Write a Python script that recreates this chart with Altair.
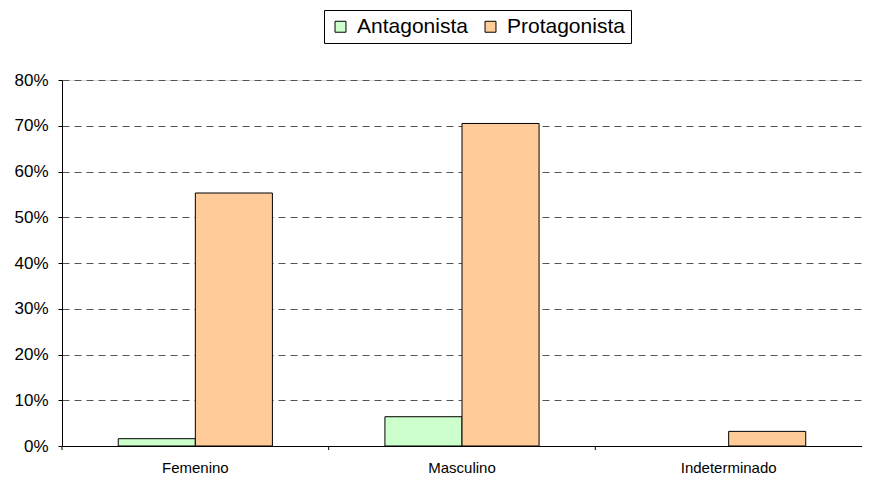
import altair as alt
import pandas as pd

categories = ["Femenino", "Masculino", "Indeterminado"]
series = ["Antagonista", "Protagonista"]
antagonista = [0.016, 0.064, 0.0]
protagonista = [0.553, 0.705, 0.032]
colors = ["#CCFFCC", "#FFCC99"]

rows = []
for c, a, p in zip(categories, antagonista, protagonista):
    rows.append({"cat": c, "serie": "Antagonista", "val": a})
    rows.append({"cat": c, "serie": "Protagonista", "val": p})
df = pd.DataFrame(rows)
ticks_df = pd.DataFrame({"cat": categories})

FONT = "Liberation Sans"

xscale = alt.Scale(domain=categories, paddingInner=0, paddingOuter=0)

bars = alt.Chart(df).transform_filter("datum.val > 0").mark_bar(stroke="black", strokeWidth=1).encode(
    x=alt.X("cat:N", sort=categories, scale=xscale,
            axis=alt.Axis(title=None, labelAngle=0, ticks=False, grid=False,
                          domainColor="black", labelFontSize=15, labelColor="black",
                          labelFont=FONT, labelPadding=14)),
    xOffset=alt.XOffset("serie:N", sort=series,
                        scale=alt.Scale(domain=series, paddingInner=0, paddingOuter=0.73)),
    y=alt.Y("val:Q", scale=alt.Scale(domain=[0, 0.8]),
            axis=alt.Axis(title=None, format=".0%", values=[0, 0.1, 0.2, 0.3, 0.4, 0.5, 0.6, 0.7, 0.8],
                          grid=True, gridDash=[7, 5], gridColor="#555555", gridWidth=1,
                          domainColor="black", tickColor="black", tickSize=4,
                          labelFontSize=17, labelColor="black", labelFont=FONT,
                          labelPadding=10)),
    color=alt.Color("serie:N", sort=series,
                    scale=alt.Scale(domain=series, range=colors),
                    legend=alt.Legend(title=None, orient="none", legendX=262, legendY=-70,
                                      direction="horizontal", symbolType="square",
                                      symbolSize=120, symbolStrokeColor="black",
                                      symbolStrokeWidth=1, labelFontSize=21,
                                      labelFont=FONT, labelColor="black",
                                      labelOffset=6, columnPadding=12,
                                      strokeColor="black", fillColor="white",
                                      padding=6)),
)

xticks = alt.Chart(ticks_df).mark_rule(color="black", strokeWidth=1).encode(
    x=alt.X("cat:N", sort=categories, scale=xscale, bandPosition=0),
    y=alt.value(366),
    y2=alt.value(370),
)

chart = alt.layer(bars, xticks).properties(
    width=800, height=366,
    padding={"left": 54, "top": 72, "right": 0, "bottom": 29},
    autosize=alt.AutoSizeParams(type="none"),
).configure_view(stroke=None).configure(font=FONT)

chart.save("out.html", embed_options={"renderer": "svg", "actions": False})
